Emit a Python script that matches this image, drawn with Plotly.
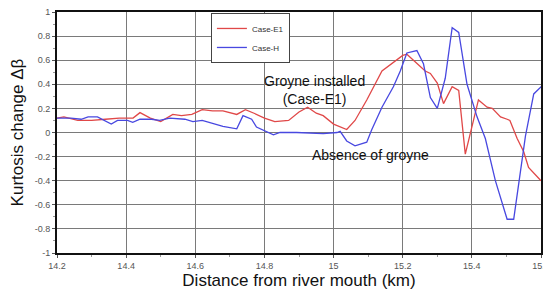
import plotly.graph_objects as go

# Case-E1 (groyne installed)
e1_x = [14.20, 14.22, 14.26, 14.30, 14.34, 14.38, 14.42, 14.44, 14.47, 14.50,
        14.535, 14.56, 14.59, 14.62, 14.65, 14.68, 14.72, 14.745, 14.77, 14.80,
        14.83, 14.87, 14.90, 14.925, 14.95, 14.97, 15.00, 15.038, 15.062, 15.096,
        15.14, 15.164, 15.20, 15.212, 15.24, 15.265, 15.28, 15.30, 15.318, 15.343,
        15.362, 15.381, 15.419, 15.444, 15.459, 15.483, 15.502, 15.51, 15.531, 15.55,
        15.564, 15.60]
e1_y = [0.12, 0.13, 0.10, 0.10, 0.11, 0.12, 0.12, 0.165, 0.12, 0.09,
        0.15, 0.14, 0.15, 0.19, 0.18, 0.18, 0.15, 0.19, 0.16, 0.12,
        0.09, 0.10, 0.17, 0.21, 0.16, 0.14, 0.07, 0.025, 0.10, 0.27,
        0.51, 0.56, 0.64, 0.65, 0.58, 0.51, 0.49, 0.41, 0.24, 0.38,
        0.35, -0.18, 0.27, 0.21, 0.20, 0.13, 0.11, 0.10, -0.05, -0.16,
        -0.29, -0.40]

# Case-H (absence of groyne)
h_x = [14.20, 14.24, 14.27, 14.29, 14.317, 14.357, 14.375, 14.404, 14.419, 14.44,
       14.473, 14.497, 14.526, 14.57, 14.593, 14.62, 14.68, 14.72, 14.738, 14.763,
       14.777, 14.806, 14.826, 14.845, 14.893, 14.97, 15.01, 15.019, 15.038, 15.062,
       15.096, 15.11, 15.14, 15.173, 15.193, 15.212, 15.23, 15.241, 15.26, 15.28,
       15.30, 15.323, 15.343, 15.362, 15.386, 15.415, 15.439, 15.468, 15.502, 15.521,
       15.555, 15.579, 15.604]
h_y = [0.12, 0.12, 0.11, 0.13, 0.13, 0.07, 0.10, 0.10, 0.085, 0.11,
       0.11, 0.10, 0.12, 0.11, 0.09, 0.10, 0.05, 0.03, 0.14, 0.11,
       0.045, 0.01, -0.02, 0.00, 0.00, -0.01, 0.00, 0.01, -0.07, -0.11,
       -0.08, 0.02, 0.21, 0.38, 0.51, 0.66, 0.67, 0.68, 0.57, 0.29,
       0.20, 0.45, 0.87, 0.83, 0.40, 0.13, -0.05, -0.40, -0.72, -0.72,
       -0.03, 0.32, 0.39]

x_ticks = [14.2, 14.4, 14.6, 14.8, 15.0, 15.2, 15.4, 15.6]
x_ticklabels = ["14.2", "14.4", "14.6", "14.8", "15", "15.2", "15.4", "15.6"]
y_ticks = [-1, -0.8, -0.6, -0.4, -0.2, 0, 0.2, 0.4, 0.6, 0.8, 1]
y_ticklabels = ["-1", "-0.8", "-0.6", "-0.4", "-0.2", "0", "0.2", "0.4", "0.6", "0.8", "1"]

FONT = "Liberation Sans, Arial, sans-serif"

fig = go.Figure()
fig.add_trace(go.Scatter(x=e1_x, y=e1_y, mode="lines", name="Case-E1",
                         line=dict(color="#e04848", width=1.3)))
fig.add_trace(go.Scatter(x=h_x, y=h_y, mode="lines", name="Case-H",
                         line=dict(color="#4848e0", width=1.3)))

fig.add_annotation(x=14.944, y=0.35, text="Groyne installed<br>(Case-E1)",
                   showarrow=False, font=dict(size=14, color="#111", family=FONT))
fig.add_annotation(x=15.107, y=-0.19, text="Absence of groyne",
                   showarrow=False, font=dict(size=14, color="#111", family=FONT))

fig.update_layout(
    width=543, height=295,
    margin=dict(l=57, r=2, t=12, b=42, autoexpand=False),
    paper_bgcolor="white", plot_bgcolor="white",
    font=dict(family=FONT, color="#444"),
    legend=dict(x=0.318, y=0.996, xanchor="left", yanchor="top",
                bordercolor="#444", borderwidth=1, bgcolor="white",
                font=dict(size=8, color="#333", family=FONT)),
    xaxis=dict(range=[14.2, 15.6], tickvals=x_ticks, ticktext=x_ticklabels,
               automargin=False, ticklabeloverflow="allow",
               showgrid=True, gridcolor="#7a7a7a", gridwidth=1,
               showline=True, linecolor="#111", linewidth=1.5, mirror=True,
               ticks="outside", ticklen=3, tickcolor="#555",
               tickfont=dict(size=9, color="#555"),
               minor=dict(dtick=0.1, ticklen=2, tickcolor="#999", ticks="outside", showgrid=False),
               zeroline=False,
               title=dict(text="Distance from river mouth (km)", standoff=3,
                          font=dict(size=17, color="#111"))),
    yaxis=dict(range=[-1, 1], tickvals=y_ticks, ticktext=y_ticklabels,
               automargin=False,
               showgrid=True, gridcolor="#7a7a7a", gridwidth=1,
               showline=True, linecolor="#111", linewidth=2, mirror=True,
               ticks="outside", ticklen=3, tickcolor="#555",
               tickfont=dict(size=9, color="#555"),
               minor=dict(dtick=0.1, ticklen=2, tickcolor="#999", ticks="outside", showgrid=False),
               zeroline=False,
               title=dict(text="Kurtosis change Δβ", standoff=7,
                          font=dict(size=17, color="#111"))),
)

fig.write_html("out.html", config={"displayModeBar": False},
               post_script="document.body.style.margin='0';document.body.style.overflow='hidden';")
